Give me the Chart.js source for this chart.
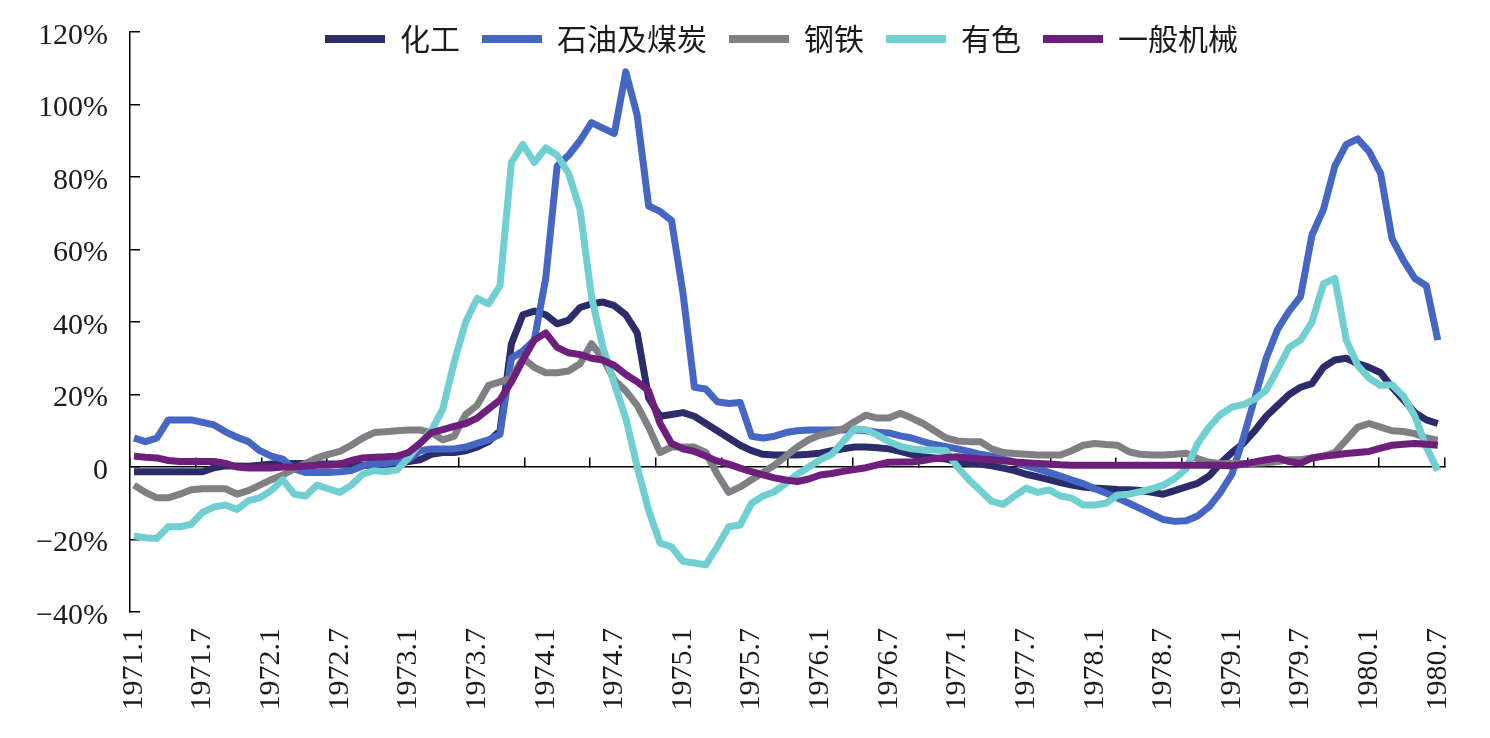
<!DOCTYPE html>
<html>
<head>
<meta charset="utf-8">
<script src="https://cdn.jsdelivr.net/npm/chart.js@4.4.0/dist/chart.umd.min.js"></script>
<style>
html,body{margin:0;padding:0;background:#ffffff;}
#wrap{width:1490px;height:738px;position:relative;}
</style>
</head>
<body>
<div id="wrap"><canvas id="c" width="1490" height="738"></canvas></div>
<script>
// Categories: months 1971.1 ... 1980.7
const months = [];
for (let y = 1971; y <= 1980; y++) {
  for (let m = 1; m <= 12; m++) {
    if (y === 1980 && m > 7) break;
    months.push(y + '.' + m);
  }
}
const tickStep = 6; // a label every 6 months

const seriesNames = ['化工', '石油及煤炭', '钢铁', '有色', '一般机械'];

// 化工
const chem = [
  -1.3, -1.3, -1.3, -1.3, -1.3, -1.3, -1.3, -0.2, 0.3, 0.3, 0.2, 0.5,
  0.8, 1, 1, 1, 0.8, 0.8, 0.8, 0.8, 0.5, 0.5, 0.8, 1,
  1.5, 2, 3.5, 4, 4, 4.5, 5.5, 7, 10, 34, 42, 43,
  42, 39.5, 40.5, 44, 45, 45.5, 44.5, 42, 37, 19, 14, 14.5,
  15, 14, 12, 10, 8, 6, 4.5, 3.5, 3.3, 3.3, 3.3, 3.5,
  3.8, 4.5, 5, 5.5, 5.5, 5.3, 5, 4.3, 3.5, 2.8, 2.5, 2.2,
  1.5, 1, 0.8, 0.3, -0.3, -1, -2, -2.7, -3.5, -4.3, -5, -5.5,
  -5.8, -6, -6.2, -6.3, -6.5, -7, -7.5, -6.5, -5.5, -4.5, -2.5, 1,
  4, 6.5, 10, 14, 17, 20, 22, 23, 27.5, 29.5, 30, 28.5,
  27.5, 26, 22, 18.5, 15, 13, 12
];
// 石油及煤炭
const oil = [
  8, 7, 8, 13, 13, 13, 12.3, 11.6, 9.7, 8.2, 7, 4.5,
  3, 2.2, -0.5, -1.5, -1.5, -1.5, -1.3, -1, 0.3, 1, 1, 1.5,
  2, 4.5, 5, 5, 5, 5.5, 6.5, 7.5, 9, 30, 32, 35,
  52, 83, 86, 90, 95, 93.5, 92, 109, 97, 72, 70.5, 68,
  48, 22, 21.5, 18, 17.5, 17.8, 8.5, 8, 8.5, 9.5, 10, 10.2,
  10.2, 10.2, 10.3, 10.2, 10, 9.6, 9.4, 8.6, 8, 7, 6.2, 5.6,
  5, 4.3, 3.5, 3, 2.2, 1.4, 0.4, -0.5, -1.5, -2.5, -3.6, -4.6,
  -6, -7.2, -8.6, -10, -11.5, -13, -14.5, -15, -14.8, -13.5, -11, -7,
  -2, 8, 19, 30, 38, 43, 47, 64, 71, 83, 89, 90.5,
  87, 81, 63, 57, 52, 50, 35
];
// 钢铁
const steel = [
  -5, -7, -8.5, -8.5, -7.5, -6.3, -6, -6, -6, -7.5, -6.5, -5,
  -3.5, -2.2, -0.5, 1, 2.5, 3.5, 4.3, 6, 8, 9.5, 9.7, 10,
  10.2, 10.2, 9.5, 7.5, 8.5, 14.5, 17, 22.5, 23.5, 24.5, 30, 27.5,
  26, 26, 26.5, 28.5, 34, 30, 24, 21, 17, 11, 4, 5.5,
  5.5, 5.5, 4, -2, -7, -5.5, -3.5, -1.5, 0.5, 3, 5.5, 7.5,
  8.8, 9.5, 10.5, 12.5, 14.3, 13.5, 13.5, 14.8, 13.5, 12, 10, 8,
  7.2, 7, 7, 5, 4, 3.7, 3.5, 3.3, 3.3, 3.3, 4.5, 6,
  6.5, 6.2, 6, 4.2, 3.5, 3.3, 3.3, 3.5, 3.8, 2.3, 1.3, 1,
  1, 1, 1, 1.2, 1.5, 2, 2, 2.5, 3, 4, 7.5, 11,
  12, 11, 10, 9.8, 9.2, 8, 7.4
];
// 有色
const nonferrous = [
  -19, -19.5, -19.7, -16.5, -16.5, -15.8, -12.5, -11, -10.5, -11.7, -9.3, -8.5,
  -6.5, -3.5, -7.5, -8, -5, -6, -7, -5, -2, -1, -1.3, -0.8,
  2.5, 6.5, 10, 16, 29, 40, 46.5, 45, 50, 84, 89, 84,
  88, 86, 81, 71, 47, 33, 23, 13.5, 0, -12, -21, -22,
  -26, -26.5, -27, -22, -16.5, -16, -10, -8, -6.8, -4.5, -2, 0,
  2, 3.5, 7, 10.5, 10.3, 8.8, 7, 5.7, 5, 4.7, 4.7, 4.5,
  0, -3.5, -6.5, -9.5, -10.3, -8, -5.8, -7, -6.3, -8, -8.6, -10.5,
  -10.5, -10, -7.7, -7.5, -6.8, -6, -5, -3.2, -0.5, 6.5, 11, 14.5,
  16.5, 17.2, 18.7, 21.2, 27, 33, 35, 40, 50.5, 52, 35, 28,
  24.5, 22.5, 22.7, 19.5, 14, 5.5, -1
];
// 一般机械
const machinery = [
  3, 2.7, 2.5, 1.8, 1.5, 1.5, 1.5, 1.5, 1, 0, -0.3, -0.3,
  -0.3, 0, 0, 0.3, 0.5, 0.5, 0.8, 1.8, 2.5, 2.7, 2.8, 3,
  4, 6.5, 9.5, 10.3, 11.2, 12, 13.5, 16, 18.5, 23.5, 29.5, 35,
  37, 33, 31.5, 31, 30, 29.5, 28, 25.5, 23.5, 21, 12, 6.5,
  5, 4.3, 3, 1.6, 0.8, -0.3, -1.3, -2.2, -3, -3.6, -4, -3.3,
  -2.2, -1.8, -1.2, -0.7, -0.2, 0.6, 1.3, 1.4, 1.4, 1.8, 2.3, 2.6,
  2.8, 2.5, 2.2, 2, 1.7, 1.4, 1.2, 1, 0.8, 0.6, 0.5, 0.5,
  0.5, 0.5, 0.5, 0.5, 0.5, 0.5, 0.5, 0.5, 0.5, 0.5, 0.5, 0.5,
  0.3, 0.8, 1.4, 2, 2.5, 1.5, 1, 2.5, 3, 3.3, 3.7, 4,
  4.3, 5.2, 6, 6.3, 6.5, 6.3, 6
];

const yTickValues = [-40, -20, 0, 20, 40, 60, 80, 100, 120];

const seriesValues = [chem, oil, steel, nonferrous, machinery];
const seriesColors = ['#2d2c6a', '#4566c3', '#808084', '#6fcfd1', '#6e1f7c'];

const datasets = seriesValues.map((vals, k) => ({
  label: seriesNames[k],
  data: vals.map((v, i) => ({ x: i, y: v })),
  borderColor: seriesColors[k],
  backgroundColor: seriesColors[k],
  borderWidth: 7,
  pointRadius: 0,
  pointHoverRadius: 0,
  tension: 0,
  fill: false,
  borderJoinStyle: 'round',
  order: seriesValues.length - k,
  xAxisID: 'x',
  yAxisID: 'y'
}));

const legendPlace = {
  id: 'legendPlace',
  afterLayout(chart) {
    const lg = chart.legend;
    if (!lg) return;
    lg.left = 303; lg.right = 1490;
    lg.top = 2; lg.bottom = 90;
    lg.width = lg.right - lg.left;
    lg.height = lg.bottom - lg.top;
  }
};

const textColor = '#1c1a1b';
const serif = "'Liberation Serif', 'Times New Roman', serif";

new Chart(document.getElementById('c'), {
  type: 'line',
  data: { datasets },
  plugins: [legendPlace],
  options: {
    responsive: false,
    devicePixelRatio: 1,
    animation: false,
    events: [],
    layout: { padding: { left: 0, right: 44, top: 0, bottom: 0 } },
    plugins: {
      tooltip: { enabled: false },
      legend: {
        display: true,
        position: 'top',
        align: 'start',
        maxHeight: 32,
        labels: {
          boxWidth: 60,
          boxHeight: 8,
          padding: 22,
          color: textColor,
          font: { family: "'Noto Sans CJK SC', sans-serif", size: 30 },
          generateLabels: (chart) => chart.data.datasets.map((ds, i) => ({
            text: ds.label,
            fillStyle: ds.borderColor,
            strokeStyle: ds.borderColor,
            lineWidth: 0,
            hidden: false,
            datasetIndex: i,
            fontColor: textColor
          }))
        }
      }
    },
    scales: {
      x: {
        type: 'linear',
        position: 'bottom',
        min: -0.35,
        max: months.length - 1 + 0.61,
        afterFit: (s) => { s.height = 126; },
        grid: { display: false, drawTicks: false },
        border: { display: false },
        ticks: {
          stepSize: tickStep,
          autoSkip: false,
          includeBounds: false,
          maxTicksLimit: 200,
          minRotation: 90,
          maxRotation: 90,
          padding: 16,
          color: textColor,
          font: { family: serif, size: 30 },
          callback: (v) => (Number.isInteger(v) && months[v] !== undefined) ? months[v] : ''
        }
      },
      xz: {
        type: 'linear',
        axis: 'x',
        position: { y: 0 },
        min: 0,
        max: 20,
        ticks: { display: false, stepSize: 1, maxTicksLimit: 200 },
        grid: { drawOnChartArea: false, drawTicks: true, tickLength: -10, color: '#000', lineWidth: 1.5 },
        border: { display: true, color: '#000', width: 1.5 }
      },
      y: {
        type: 'linear',
        position: 'left',
        min: yTickValues[0],
        max: yTickValues[yTickValues.length - 1],
        afterFit: (s) => { s.width = 130; s.paddingTop = 0; s.paddingBottom = 0; },
        afterBuildTicks: (s) => { s.ticks = yTickValues.map(v => ({ value: v })); },
        ticks: {
          padding: 32,
          labelOffset: 4,
          color: textColor,
          font: { family: serif, size: 30 },
          callback: (v) => v === 0 ? '0' : (v < 0 ? '\u2212' + Math.abs(v) : String(v)) + '%'
        },
        grid: { drawOnChartArea: false, drawTicks: true, tickLength: -10, color: '#000', lineWidth: 1.5 },
        border: { display: true, color: '#000', width: 1.5 }
      }
    }
  }
});
</script>
</body>
</html>
